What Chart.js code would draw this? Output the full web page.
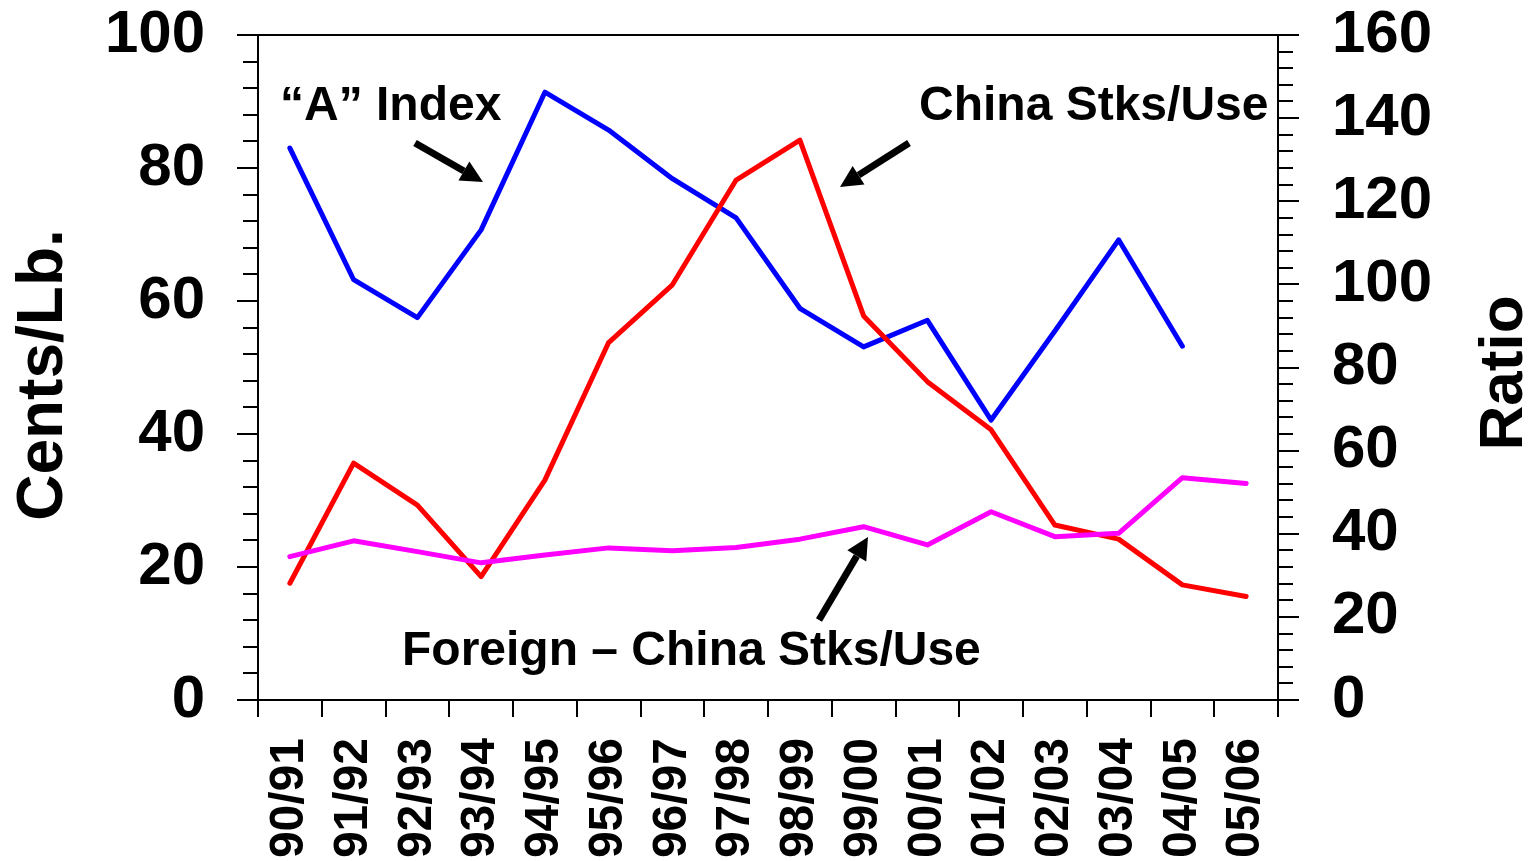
<!DOCTYPE html>
<html>
<head>
<meta charset="utf-8">
<script src="https://cdn.jsdelivr.net/npm/chart.js@4.4.1/dist/chart.umd.min.js"></script>
<style>
  html, body { margin: 0; padding: 0; background: #fff; }
  #wrap { width: 1532px; height: 861px; position: relative; }
</style>
</head>
<body>
<div id="wrap"><canvas id="c" width="1532" height="861"></canvas></div>
<script>
// ---- Data ----
const categories = ["90/91","91/92","92/93","93/94","94/95","95/96","96/97","97/98","98/99","99/00","00/01","01/02","02/03","03/04","04/05","05/06"];
// Cents/Lb. (left axis)
const aIndex = [83.0, 63.2, 57.5, 70.7, 91.4, 85.7, 78.4, 72.5, 58.9, 53.1, 57.1, 42.1, 55.5, 69.2, 53.2, null];
// Ratio (right axis)
const chinaStksUse = [28.1, 57.0, 46.9, 29.7, 52.9, 86.0, 99.9, 125.1, 134.7, 92.4, 76.6, 65.0, 42.1, 38.7, 27.7, 24.9];
const foreignChinaStksUse = [34.5, 38.3, 35.7, 33.0, 34.9, 36.6, 35.9, 36.7, 38.7, 41.7, 37.3, 45.3, 39.3, 40.1, 53.5, 52.1];
const leftTicks = [0, 20, 40, 60, 80, 100];
const rightTicks = [0, 20, 40, 60, 80, 100, 120, 140, 160];

const FONT = '"Liberation Sans", Arial, sans-serif';

function noPad(s) { s.paddingTop = 0; s.paddingBottom = 0; s.paddingLeft = 0; s.paddingRight = 0; }

const decor = {
  id: 'decor',
  afterDraw(chart) {
    const ctx = chart.ctx;
    const ca = chart.chartArea;
    const x = chart.scales.x, yl = chart.scales.y, yr = chart.scales.y1;
    ctx.save();
    ctx.strokeStyle = '#000';
    ctx.lineWidth = 2;
    ctx.lineCap = 'butt';
    // frame
    ctx.beginPath();
    ctx.moveTo(ca.left - 21, ca.top); ctx.lineTo(ca.right + 21, ca.top);
    ctx.moveTo(ca.left - 21, ca.bottom); ctx.lineTo(ca.right + 21, ca.bottom);
    ctx.moveTo(ca.left, ca.top); ctx.lineTo(ca.left, ca.bottom + 17);
    ctx.moveTo(ca.right, ca.top); ctx.lineTo(ca.right, ca.bottom + 17);
    // left ticks
    for (let v = 0; v <= 100; v += 4) {
      const py = Math.round(yl.getPixelForValue(v));
      const len = (v % 20 === 0) ? 21 : 15;
      ctx.moveTo(ca.left - len, py); ctx.lineTo(ca.left, py);
    }
    // right ticks
    for (let v = 0; v <= 160; v += 4) {
      const py = Math.round(yr.getPixelForValue(v));
      const len = (v % 20 === 0) ? 21 : 15;
      ctx.moveTo(ca.right, py); ctx.lineTo(ca.right + len, py);
    }
    // bottom ticks at category boundaries
    for (let i = 0; i <= categories.length; i++) {
      const px = Math.round(x.getPixelForValue(i - 0.5));
      ctx.moveTo(px, ca.bottom); ctx.lineTo(px, ca.bottom + 17);
    }
    ctx.stroke();

    // arrows
    function arrow(x1, y1, x2, y2) {
      const ang = Math.atan2(y2 - y1, x2 - x1);
      const hl = 22, hw = 11;
      const bx = x2 - hl * Math.cos(ang), by = y2 - hl * Math.sin(ang);
      ctx.beginPath();
      ctx.lineWidth = 7;
      ctx.strokeStyle = '#000';
      ctx.moveTo(x1, y1); ctx.lineTo(bx, by);
      ctx.stroke();
      ctx.beginPath();
      ctx.fillStyle = '#000';
      ctx.moveTo(x2, y2);
      ctx.lineTo(bx + hw * Math.sin(ang), by - hw * Math.cos(ang));
      ctx.lineTo(bx - hw * Math.sin(ang), by + hw * Math.cos(ang));
      ctx.closePath();
      ctx.fill();
    }
    arrow(415, 143, 483, 182);
    arrow(909, 143, 840, 187);
    arrow(819, 620, 868, 537);

    // annotations
    ctx.fillStyle = '#000';
    ctx.font = 'bold 48px ' + FONT;
    ctx.textBaseline = 'alphabetic';
    ctx.textAlign = 'left';
    ctx.fillText('\u201CA\u201D Index', 280, 120);
    ctx.fillText('China Stks/Use', 919, 120);
    ctx.fillText('Foreign \u2013 China Stks/Use', 402, 665);

    // axis titles
    ctx.textAlign = 'center';
    ctx.font = 'bold 64px ' + FONT;
    ctx.save();
    ctx.translate(62, 375);
    ctx.rotate(-Math.PI / 2);
    ctx.fillText('Cents/Lb.', 0, 0);
    ctx.restore();
    ctx.font = 'bold 62px ' + FONT;
    ctx.save();
    ctx.translate(1522, 373);
    ctx.rotate(-Math.PI / 2);
    ctx.fillText('Ratio', 0, 0);
    ctx.restore();
    ctx.restore();
  }
};

new Chart(document.getElementById('c'), {
  type: 'line',
  data: {
    labels: categories,
    datasets: [
      { label: '"A" Index', data: aIndex, yAxisID: 'y', borderColor: '#0000FF', borderWidth: 5, pointRadius: 0, tension: 0, order: 3, borderJoinStyle: 'round', borderCapStyle: 'round', spanGaps: false },
      { label: 'China Stks/Use', data: chinaStksUse, yAxisID: 'y1', borderColor: '#FF0000', borderWidth: 5, pointRadius: 0, tension: 0, order: 2, borderJoinStyle: 'round', borderCapStyle: 'round' },
      { label: 'Foreign - China Stks/Use', data: foreignChinaStksUse, yAxisID: 'y1', borderColor: '#FF00FF', borderWidth: 5, pointRadius: 0, tension: 0, order: 1, borderJoinStyle: 'round', borderCapStyle: 'round' }
    ]
  },
  options: {
    responsive: false,
    animation: false,
    events: [],
    layout: { padding: { top: 35, left: 0, right: 0, bottom: 0 } },
    plugins: { legend: { display: false }, tooltip: { enabled: false } },
    scales: {
      x: {
        type: 'category',
        offset: true,
        grid: { display: false, drawTicks: false },
        border: { display: false },
        ticks: {
          color: '#000',
          font: { family: FONT, size: 48, weight: 'bold', lineHeight: 1 },
          minRotation: 90, maxRotation: 90,
          autoSkip: false,
          padding: 38
        },
        afterFit(s) { s.height = 161; noPad(s); }
      },
      y: {
        position: 'left',
        min: 0, max: 100,
        afterBuildTicks(s) { s.ticks = leftTicks.map(v => ({ value: v })); },
        grid: { display: false, drawTicks: false },
        border: { display: false },
        ticks: {
          color: '#000',
          font: { family: FONT, size: 60, weight: 'bold', lineHeight: 1 },
          padding: 53
        },
        afterFit(s) { s.width = 258; noPad(s); }
      },
      y1: {
        position: 'right',
        min: 0, max: 160,
        afterBuildTicks(s) { s.ticks = rightTicks.map(v => ({ value: v })); },
        grid: { display: false, drawTicks: false },
        border: { display: false },
        ticks: {
          color: '#000',
          font: { family: FONT, size: 60, weight: 'bold', lineHeight: 1 },
          padding: 54
        },
        afterFit(s) { s.width = 254; noPad(s); }
      }
    }
  },
  plugins: [decor]
});
</script>
</body>
</html>
